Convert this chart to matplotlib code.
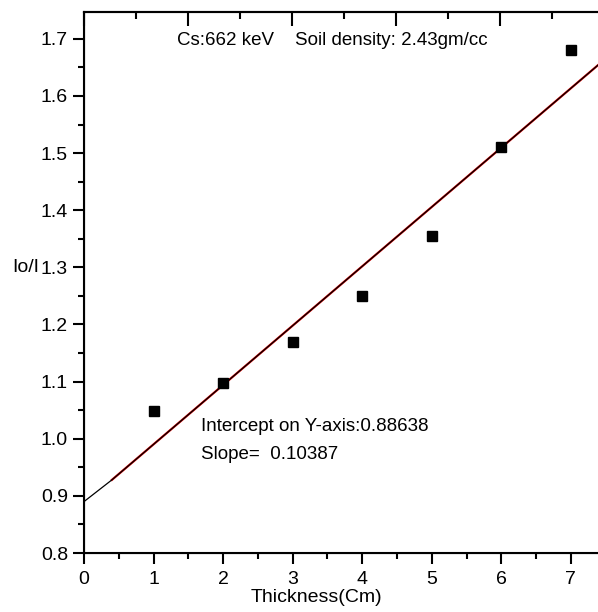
import numpy as np
import matplotlib.pyplot as plt
from matplotlib.ticker import MultipleLocator

plt.rcParams['font.family'] = ['Liberation Sans Narrow', 'Liberation Sans', 'DejaVu Sans']

# measured attenuation ratio vs soil thickness
thickness = [1, 2, 3, 4, 5, 6, 7]
ratio = [1.049, 1.098, 1.170, 1.250, 1.355, 1.511, 1.681]

# linear fit results
intercept = 0.88638
slope = 0.10387
y_at_zero = 0.89

fig = plt.figure(figsize=(5.98, 6.12), dpi=100)
ax = fig.add_axes([0.1405, 0.0964, 0.8595, 0.8840])

xf = np.array([0.4, 7.5])
ax.plot(xf, intercept + slope * xf, color='#e00000', lw=1.6, zorder=2)
xb = np.array([0.0, 0.4, 7.5])
yb = np.array([y_at_zero, intercept + slope * 0.4, intercept + slope * 7.5])
ax.plot(xb, yb, color='black', lw=0.9, zorder=3)

ax.plot(thickness, ratio, 's', color='black', markersize=7.5, zorder=4)

ax.set_xlim(0, 7.39)
ax.set_ylim(0.8, 1.747)
ax.xaxis.set_major_locator(MultipleLocator(1))
ax.xaxis.set_minor_locator(MultipleLocator(0.5))
ax.yaxis.set_major_locator(MultipleLocator(0.1))
ax.yaxis.set_minor_locator(MultipleLocator(0.05))
ax.tick_params(which='major', direction='out', length=8, width=1.5, labelsize=14)
ax.tick_params(which='minor', direction='out', length=4, width=1.5)
ax.tick_params(axis='x', pad=5)
ax.yaxis.set_major_formatter(plt.FormatStrFormatter('%.1f'))

for s in ['left', 'bottom', 'top']:
    ax.spines[s].set_linewidth(1.5)
ax.spines['right'].set_visible(False)

# top axis carries its own tick spacing
top = ax.twiny()
top.set_xlim(0, 7.39 / 1.495)
top.xaxis.set_major_locator(MultipleLocator(1))
top.xaxis.set_minor_locator(MultipleLocator(0.5))
top.tick_params(which='major', direction='in', length=10, width=1.5, labeltop=False)
top.tick_params(which='minor', direction='in', length=5, width=1.5)
top.spines['right'].set_visible(False)
top.spines['top'].set_linewidth(1.5)

ax.set_xlabel('Thickness(Cm)', fontsize=14)
ax.xaxis.set_label_coords(0.453, -0.066)
ax.set_ylabel('Io/I', fontsize=14, rotation=0)
ax.yaxis.set_label_coords(-0.113, 0.512)

ax.text(1.33, 1.697, 'Cs:662 keV    Soil density: 2.43gm/cc', fontsize=13.5, va='center')
ax.text(1.68, 1.022, 'Intercept on Y-axis:0.88638', fontsize=13.5, va='center')
ax.text(1.68, 0.973, 'Slope=  0.10387', fontsize=13.5, va='center')

fig.savefig('out.png', dpi=100)
